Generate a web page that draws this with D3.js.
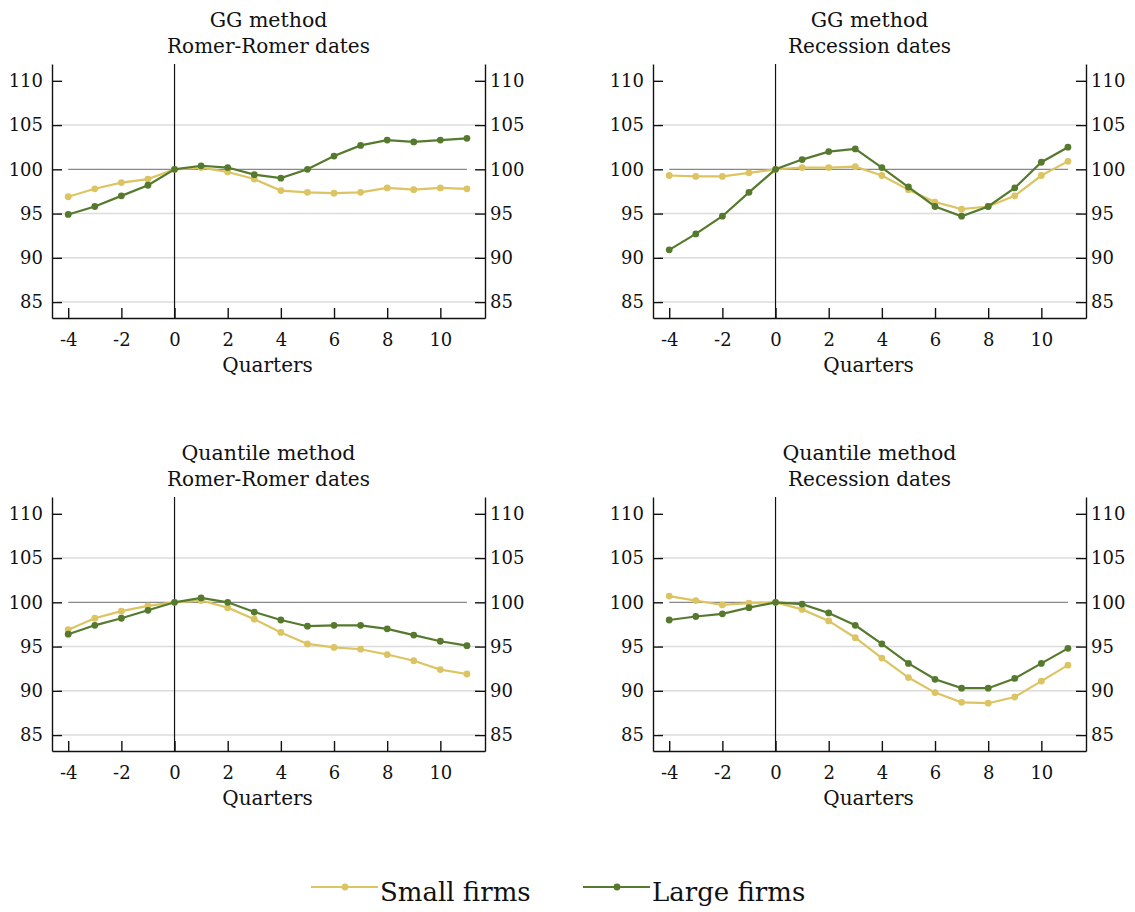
<!DOCTYPE html>
<html>
<head>
<meta charset="utf-8">
<script src="https://cdn.jsdelivr.net/npm/d3@7"></script>
<style>
  body { margin: 0; background: #fff; }
  svg text { font-family: "DejaVu Serif", "Liberation Serif", serif; fill: #111; }
</style>
</head>
<body>
<svg id="chart" width="1135" height="912"></svg>
<script>
// Quarters relative to the event date.
var quarters = [-4, -3, -2, -1, 0, 1, 2, 3, 4, 5, 6, 7, 8, 9, 10, 11];

// GG method, Romer-Romer dates.
var ggRomerSmall = [96.9, 97.8, 98.5, 98.9, 100, 100.2, 99.7, 98.9, 97.6, 97.4, 97.3, 97.4, 97.9, 97.7, 97.9, 97.8];
var ggRomerLarge = [94.9, 95.8, 97.0, 98.2, 100, 100.4, 100.2, 99.4, 99.0, 100.0, 101.5, 102.7, 103.3, 103.1, 103.3, 103.5];

// GG method, recession dates.
var ggRecSmall = [99.3, 99.2, 99.2, 99.6, 100, 100.2, 100.2, 100.3, 99.3, 97.7, 96.3, 95.5, 95.8, 97.0, 99.3, 100.9];
var ggRecLarge = [90.9, 92.7, 94.7, 97.4, 100, 101.1, 102.0, 102.3, 100.2, 98.0, 95.8, 94.7, 95.8, 97.9, 100.8, 102.5];

// Quantile method, Romer-Romer dates.
var qRomerSmall = [96.9, 98.2, 99.0, 99.6, 100, 100.2, 99.4, 98.1, 96.6, 95.3, 94.9, 94.7, 94.1, 93.4, 92.4, 91.9];
var qRomerLarge = [96.4, 97.4, 98.2, 99.1, 100, 100.5, 100.0, 98.9, 98.0, 97.3, 97.4, 97.4, 97.0, 96.3, 95.6, 95.1];

// Quantile method, recession dates.
var qRecSmall = [100.7, 100.2, 99.7, 99.9, 100, 99.2, 97.9, 96.0, 93.7, 91.5, 89.8, 88.7, 88.6, 89.3, 91.1, 92.9];
var qRecLarge = [98.0, 98.4, 98.7, 99.4, 100, 99.8, 98.8, 97.4, 95.3, 93.1, 91.3, 90.3, 90.3, 91.4, 93.1, 94.8];

var yTicks = [85, 90, 95, 100, 105, 110];
var xTicks = [-4, -2, 0, 2, 4, 6, 8, 10];
var seriesNames = ['Small firms', 'Large firms'];
var seriesColors = ['#dcc462', '#557a2e'];

var panels = [
  {title: ['GG method', 'Romer-Romer dates'], small: ggRomerSmall, large: ggRomerLarge, x: 52, y: 64},
  {title: ['GG method', 'Recession dates'], small: ggRecSmall, large: ggRecLarge, x: 653, y: 64},
  {title: ['Quantile method', 'Romer-Romer dates'], small: qRomerSmall, large: qRomerLarge, x: 52, y: 497},
  {title: ['Quantile method', 'Recession dates'], small: qRecSmall, large: qRecLarge, x: 653, y: 497}
];

var panelW = 433, panelH = 254;
var svg = d3.select('#chart');

var x = d3.scaleLinear().domain([-4.61, 11.68]).range([0, panelW]);
var y = d3.scaleLinear().domain([83.2, 111.9]).range([panelH, 0]);

/**
 * Draws one small-multiple panel.
 */
function drawPanel(p) {
  var g = svg.append('g').attr('transform', 'translate(' + p.x + ',' + p.y + ')');

  // Titles.
  g.append('text').attr('x', panelW / 2).attr('y', -37)
    .attr('text-anchor', 'middle').style('font-size', '20.5px').text(p.title[0]);
  g.append('text').attr('x', panelW / 2).attr('y', -11)
    .attr('text-anchor', 'middle').style('font-size', '20px').text(p.title[1]);

  // Light grid lines.
  g.selectAll('.grid').data([85, 90, 95, 105]).enter()
    .append('line')
    .attr('x1', 5).attr('x2', panelW - 5)
    .attr('y1', function(d) { return y(d); })
    .attr('y2', function(d) { return y(d); })
    .attr('stroke', '#dcdcdc').attr('stroke-width', 1.5);

  // Reference line at 100.
  g.append('line')
    .attr('x1', x(-4)).attr('x2', x(11))
    .attr('y1', y(100)).attr('y2', y(100))
    .attr('stroke', '#888').attr('stroke-width', 1.3);

  // Vertical line at the event date.
  g.append('line')
    .attr('x1', x(0)).attr('x2', x(0))
    .attr('y1', 0).attr('y2', panelH)
    .attr('stroke', '#111').attr('stroke-width', 1.2);

  // Axes.
  var left = d3.axisLeft(y).tickValues(yTicks).tickSizeInner(-10).tickSizeOuter(0).tickPadding(9);
  var right = d3.axisRight(y).tickValues(yTicks).tickSizeInner(-10).tickSizeOuter(0).tickPadding(5);
  var bottom = d3.axisBottom(x).tickValues(xTicks).tickSizeInner(-10).tickSizeOuter(0).tickPadding(15)
    .tickFormat(d3.format('d'));

  [
    g.append('g').call(left),
    g.append('g').attr('transform', 'translate(' + panelW + ',0)').call(right),
    g.append('g').attr('transform', 'translate(0,' + panelH + ')').call(bottom)
  ].forEach(function(ax) {
    ax.attr('font-family', null);
    ax.select('.domain').attr('stroke', '#111').attr('stroke-width', 1.4);
    ax.selectAll('.tick line').attr('stroke', '#111').attr('stroke-width', 1.4);
    ax.selectAll('.tick text').style('font-size', '18px').attr('fill', '#111');
  });
  // Plain hyphen for negative ticks, as in the reference.
  g.selectAll('.tick text').text(function() { return d3.select(this).text().replace('\u2212', '-'); });

  g.append('text').attr('x', x(3.5)).attr('y', panelH + 54)
    .attr('text-anchor', 'middle').style('font-size', '20px').text('Quarters');

  // Series lines and markers.
  var line = d3.line()
    .x(function(d, i) { return x(quarters[i]); })
    .y(function(d) { return y(d); });

  [p.small, p.large].forEach(function(values, k) {
    g.append('path').datum(values)
      .attr('d', line)
      .attr('fill', 'none')
      .attr('stroke', seriesColors[k])
      .attr('stroke-width', 2.2);
    g.selectAll('.pt' + k).data(values).enter()
      .append('circle')
      .attr('cx', function(d, i) { return x(quarters[i]); })
      .attr('cy', function(d) { return y(d); })
      .attr('r', 3.4)
      .attr('fill', seriesColors[k]);
  });
}

panels.forEach(drawPanel);

// Legend.
var legendX = [311, 583];
var legend = svg.append('g');
seriesNames.forEach(function(name, k) {
  var lx = legendX[k];
  legend.append('line')
    .attr('x1', lx).attr('x2', lx + 67)
    .attr('y1', 887).attr('y2', 887)
    .attr('stroke', seriesColors[k]).attr('stroke-width', 2.2);
  legend.append('circle')
    .attr('cx', lx + 34).attr('cy', 887).attr('r', 3.4)
    .attr('fill', seriesColors[k]);
  legend.append('text')
    .attr('x', lx + 69).attr('y', 901)
    .style('font-size', '26px')
    .text(name);
});
</script>
</body>
</html>
